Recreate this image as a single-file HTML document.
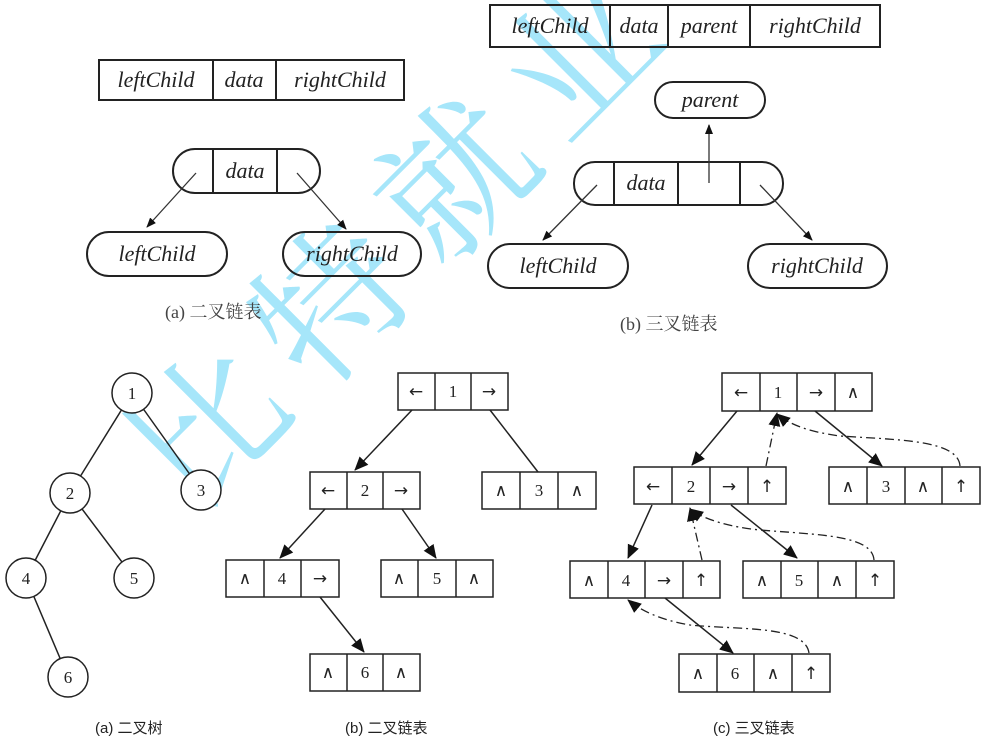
<!DOCTYPE html>
<html><head><meta charset="utf-8"><style>
html,body{margin:0;padding:0;background:#fff}
svg{display:block}
.it{font-family:"Liberation Serif",serif;font-style:italic;font-size:22px;fill:#222}
.n{font-family:"Liberation Serif",serif;font-size:17px;fill:#222}
.ar{font-family:"DejaVu Sans",sans-serif;font-size:17px}
.cap{font-family:"Liberation Serif","Noto Serif CJK SC",serif;font-size:18px;fill:#444}
.cap2{font-family:"Liberation Sans","Noto Sans CJK SC",sans-serif;font-size:15px;fill:#222}
</style></head><body>
<svg width="991" height="749" viewBox="0 0 991 749" xmlns="http://www.w3.org/2000/svg">
<defs>
<marker id="a" markerWidth="10" markerHeight="10" refX="9" refY="5" orient="auto" markerUnits="userSpaceOnUse"><path d="M0,1 L10,5 L0,9 z" fill="#111"/></marker>
<marker id="b" markerWidth="14" markerHeight="14" refX="13" refY="7" orient="auto" markerUnits="userSpaceOnUse"><path d="M0,1 L14,7 L0,13 z" fill="#111"/></marker>
</defs>
<!-- watermark -->
<text x="405" y="285" transform="rotate(-45 405 235)" text-anchor="middle" font-family="Noto Serif CJK SC,serif" font-size="150" fill="#a6e6fa" letter-spacing="25">比特就业</text>

<g stroke="#222" stroke-width="2" fill="none">
<rect x="99" y="60" width="305" height="40"/><line x1="213" y1="60" x2="213" y2="100"/><line x1="276" y1="60" x2="276" y2="100"/>
<rect x="173" y="149" width="147" height="44" rx="22"/><line x1="213" y1="149" x2="213" y2="193"/><line x1="277" y1="149" x2="277" y2="193"/>
<rect x="87" y="232" width="140" height="44" rx="22"/><rect x="283" y="232" width="138" height="44" rx="22"/>
<rect x="490" y="5" width="390" height="42"/><line x1="610" y1="5" x2="610" y2="47"/><line x1="668" y1="5" x2="668" y2="47"/><line x1="750" y1="5" x2="750" y2="47"/>
<rect x="655" y="82" width="110" height="36" rx="18"/>
<rect x="574" y="162" width="209" height="43" rx="21"/><line x1="614" y1="162" x2="614" y2="205"/><line x1="678" y1="162" x2="678" y2="205"/><line x1="740" y1="162" x2="740" y2="205"/>
<rect x="488" y="244" width="140" height="44" rx="22"/><rect x="748" y="244" width="139" height="44" rx="22"/>
</g>
<g stroke="#333" stroke-width="1.3" marker-end="url(#a)">
<line x1="196" y1="173" x2="147" y2="227"/><line x1="297" y1="173" x2="346" y2="229"/>
<line x1="709" y1="183" x2="709" y2="125"/><line x1="597" y1="185" x2="543" y2="240"/><line x1="760" y1="185" x2="812" y2="240"/>
</g>
<text class="it" x="156" y="87" text-anchor="middle">leftChild</text>
<text class="it" x="244" y="87" text-anchor="middle">data</text>
<text class="it" x="340" y="87" text-anchor="middle">rightChild</text>
<text class="it" x="245" y="178" text-anchor="middle">data</text>
<text class="it" x="157" y="261" text-anchor="middle">leftChild</text>
<text class="it" x="352" y="261" text-anchor="middle">rightChild</text>
<text class="cap" x="165" y="318">(a) 二叉链表</text>
<text class="it" x="550" y="33" text-anchor="middle">leftChild</text>
<text class="it" x="639" y="33" text-anchor="middle">data</text>
<text class="it" x="709" y="33" text-anchor="middle">parent</text>
<text class="it" x="815" y="33" text-anchor="middle">rightChild</text>
<text class="it" x="710" y="107" text-anchor="middle">parent</text>
<text class="it" x="646" y="190" text-anchor="middle">data</text>
<text class="it" x="558" y="273" text-anchor="middle">leftChild</text>
<text class="it" x="817" y="273" text-anchor="middle">rightChild</text>
<text class="cap" x="620" y="330">(b) 三叉链表</text>

<!-- tree -->
<g stroke="#222" stroke-width="1.5" fill="#fff">
<line x1="132" y1="393" x2="70" y2="493"/><line x1="132" y1="393" x2="201" y2="490"/>
<line x1="70" y1="493" x2="26" y2="578"/><line x1="70" y1="493" x2="134" y2="578"/><line x1="26" y1="578" x2="68" y2="677"/>
<circle cx="132" cy="393" r="20"/><circle cx="70" cy="493" r="20"/><circle cx="201" cy="490" r="20"/>
<circle cx="26" cy="578" r="20"/><circle cx="134" cy="578" r="20"/><circle cx="68" cy="677" r="20"/>
</g>
<g class="n" text-anchor="middle">
<text x="132" y="399">1</text><text x="70" y="499">2</text><text x="201" y="496">3</text><text x="26" y="584">4</text><text x="134" y="584">5</text><text x="68" y="683">6</text>
</g>
<text class="cap2" x="95" y="733">(a) 二叉树</text>

<!-- (b) list -->
<g stroke="#222" stroke-width="1.5" fill="none">
<rect x="398" y="373" width="110" height="37"/><line x1="435" y1="373" x2="435" y2="410"/><line x1="471" y1="373" x2="471" y2="410"/>
<rect x="310" y="472" width="110" height="37"/><line x1="347" y1="472" x2="347" y2="509"/><line x1="383" y1="472" x2="383" y2="509"/>
<rect x="482" y="472" width="114" height="37"/><line x1="520" y1="472" x2="520" y2="509"/><line x1="558" y1="472" x2="558" y2="509"/>
<rect x="226" y="560" width="113" height="37"/><line x1="264" y1="560" x2="264" y2="597"/><line x1="301" y1="560" x2="301" y2="597"/>
<rect x="381" y="560" width="112" height="37"/><line x1="418" y1="560" x2="418" y2="597"/><line x1="456" y1="560" x2="456" y2="597"/>
<rect x="310" y="654" width="110" height="37"/><line x1="347" y1="654" x2="347" y2="691"/><line x1="383" y1="654" x2="383" y2="691"/>
</g>
<g stroke="#222" stroke-width="1.5" marker-end="url(#b)">
<line x1="412" y1="410" x2="355" y2="470"/><line x1="325" y1="509" x2="280" y2="558"/>
<line x1="402" y1="509" x2="436" y2="558"/><line x1="320" y1="597" x2="364" y2="652"/>
</g>
<line x1="490" y1="410" x2="538" y2="472" stroke="#222" stroke-width="1.5"/>
<g class="n" text-anchor="middle">
<text class="ar" x="416" y="397">←</text><text x="453" y="397">1</text><text class="ar" x="489" y="397">→</text>
<text class="ar" x="328" y="496">←</text><text x="365" y="496">2</text><text class="ar" x="401" y="496">→</text>
<text x="501" y="496">∧</text><text x="539" y="496">3</text><text x="577" y="496">∧</text>
<text x="245" y="584">∧</text><text x="282" y="584">4</text><text class="ar" x="320" y="584">→</text>
<text x="399" y="584">∧</text><text x="437" y="584">5</text><text x="474" y="584">∧</text>
<text x="328" y="678">∧</text><text x="365" y="678">6</text><text x="401" y="678">∧</text>
</g>
<text class="cap2" x="345" y="733">(b) 二叉链表</text>

<!-- (c) list -->
<g stroke="#222" stroke-width="1.5" fill="none">
<rect x="722" y="373" width="150" height="38"/><line x1="760" y1="373" x2="760" y2="411"/><line x1="797" y1="373" x2="797" y2="411"/><line x1="835" y1="373" x2="835" y2="411"/>
<rect x="634" y="467" width="152" height="37"/><line x1="672" y1="467" x2="672" y2="504"/><line x1="710" y1="467" x2="710" y2="504"/><line x1="748" y1="467" x2="748" y2="504"/>
<rect x="829" y="467" width="151" height="37"/><line x1="867" y1="467" x2="867" y2="504"/><line x1="905" y1="467" x2="905" y2="504"/><line x1="942" y1="467" x2="942" y2="504"/>
<rect x="570" y="561" width="150" height="37"/><line x1="608" y1="561" x2="608" y2="598"/><line x1="645" y1="561" x2="645" y2="598"/><line x1="683" y1="561" x2="683" y2="598"/>
<rect x="743" y="561" width="151" height="37"/><line x1="781" y1="561" x2="781" y2="598"/><line x1="818" y1="561" x2="818" y2="598"/><line x1="856" y1="561" x2="856" y2="598"/>
<rect x="679" y="654" width="151" height="38"/><line x1="717" y1="654" x2="717" y2="692"/><line x1="754" y1="654" x2="754" y2="692"/><line x1="792" y1="654" x2="792" y2="692"/>
</g>
<g stroke="#222" stroke-width="1.5" marker-end="url(#b)">
<line x1="737" y1="411" x2="692" y2="465"/><line x1="815" y1="411" x2="882" y2="466"/>
<line x1="652" y1="505" x2="628" y2="558"/><line x1="731" y1="505" x2="797" y2="558"/>
<line x1="665" y1="598" x2="733" y2="653"/>
</g>
<g stroke="#222" stroke-width="1.3" fill="none" stroke-dasharray="9,4,2,4" marker-end="url(#b)">
<path d="M766,466 L777,413"/>
<path d="M960,466 C958,440 900,440 840,436 C810,432 790,425 777,414"/>
<path d="M702,560 L690,508"/>
<path d="M874,560 C872,535 820,535 760,530 C730,527 705,520 690,509"/>
<path d="M809,653 C805,625 740,630 690,625 C660,620 640,610 628,600"/>
</g>
<g class="n" text-anchor="middle">
<text class="ar" x="741" y="398">←</text><text x="778" y="398">1</text><text class="ar" x="816" y="398">→</text><text x="853" y="398">∧</text>
<text class="ar" x="653" y="492">←</text><text x="691" y="492">2</text><text class="ar" x="729" y="492">→</text><text class="ar" x="767" y="492">↑</text>
<text x="848" y="492">∧</text><text x="886" y="492">3</text><text x="923" y="492">∧</text><text class="ar" x="961" y="492">↑</text>
<text x="589" y="586">∧</text><text x="626" y="586">4</text><text class="ar" x="664" y="586">→</text><text class="ar" x="701" y="586">↑</text>
<text x="762" y="586">∧</text><text x="799" y="586">5</text><text x="837" y="586">∧</text><text class="ar" x="875" y="586">↑</text>
<text x="698" y="679">∧</text><text x="735" y="679">6</text><text x="773" y="679">∧</text><text class="ar" x="811" y="679">↑</text>
</g>
<text class="cap2" x="713" y="733">(c) 三叉链表</text>
</svg>
</body></html>
